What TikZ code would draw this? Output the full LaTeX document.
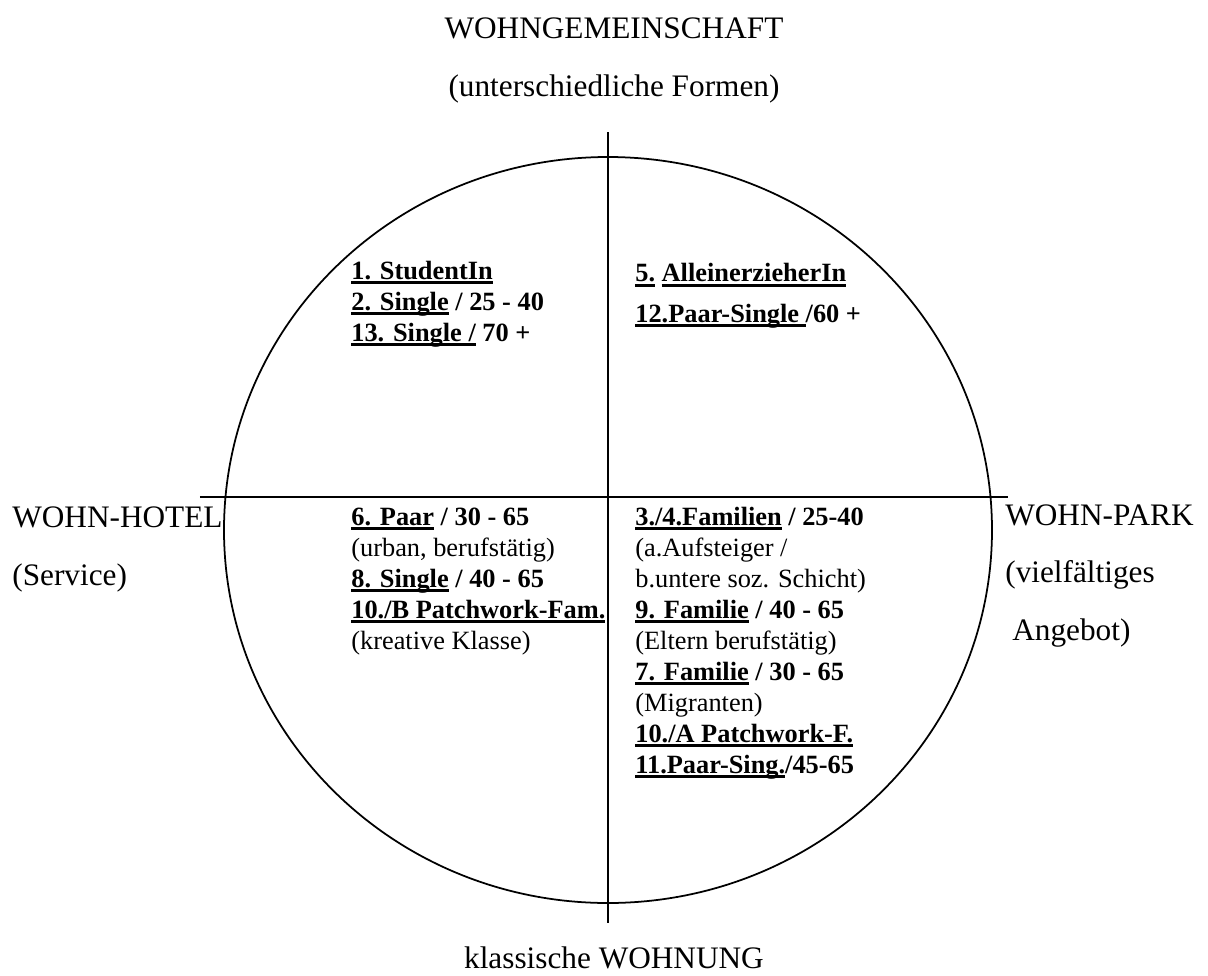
\documentclass[tikz,border=0pt]{standalone}
\usepackage{fontspec}
\setmainfont{Liberation Serif}
\usetikzlibrary{positioning}

% thick underline as in the original
\newcommand{\ulx}[1]{\setbox0=\hbox{#1}\rlap{\rule[-2.8pt]{\wd0}{1.6pt}}\box0\relax}

\begin{document}
\begin{tikzpicture}[
    axis/.style={draw=black, line width=0.8pt},
    ring/.style={draw=black, line width=1pt},
    sidetext/.style={font=\fontsize{17.8}{32.7}\selectfont, inner sep=0pt, align=left},
    quadtext/.style={font=\fontsize{15}{17.64}\selectfont, inner sep=0pt, align=left, anchor=base west}
]
\useasboundingbox (-12.16,-9.56) rectangle (12.0,9.94);

% Circle
\draw[ring] (0,-0.66) ellipse (7.68 and 7.46);

% Axes
\coordinate (top) at (0,7.3);
\coordinate (bottom) at (0,-8.52);
\coordinate (left) at (-8.16,0);
\coordinate (right) at (8.0,0);
\draw[axis] (top) -- (bottom);
\draw[axis] (left) -- (right);

% Axis labels (base = last line)
\node[sidetext, anchor=base] (wg) at (0.12,9.18) {WOHNGEMEINSCHAFT};
\node[sidetext, anchor=base] (wgsub) at (0.12,8.02) {(unterschiedliche Formen)};
\node[sidetext, anchor=base] (wohnung) at (0.12,-9.42) {klassische WOHNUNG};
\node[sidetext, anchor=base west] (hotel) at (-11.92,-1.76) {WOHN-HOTEL\\(Service)};
\node[sidetext, anchor=base west] (park) at (7.94,-2.86) {WOHN-PARK\\(vielfältiges\\\hspace*{0.14cm}Angebot)};

% Quadrants
\node[quadtext] (tl) at (-5.14,3.12) {\textbf{\ulx{1. StudentIn}}\\
    \textbf{\ulx{2. Single} / 25 - 40}\\
    \textbf{\ulx{13. Single /} 70 +}};
\node[quadtext] (tr) at (0.54,3.50) {\textbf{\ulx{5.} \ulx{AlleinerzieherIn}}\\[5.2pt]
    \textbf{\ulx{12.Paar-Single }/60 +}};
\node[quadtext] (bl) at (-5.14,-3.04) {\textbf{\ulx{6. Paar} / 30 - 65}\\
    (urban, berufstätig)\\
    \textbf{\ulx{8. Single} / 40 - 65}\\
    \textbf{\ulx{10./B Patchwork-Fam.}}\\
    (kreative Klasse)};
\node[quadtext] (br) at (0.54,-5.52) {\textbf{\ulx{3./4.Familien} / 25-40}\\
    (a.Aufsteiger /\\
    b.untere soz. Schicht)\\
    \textbf{\ulx{9. Familie} / 40 - 65}\\
    (Eltern berufstätig)\\
    \textbf{\ulx{7. Familie} / 30 - 65}\\
    (Migranten)\\
    \textbf{\ulx{10./A Patchwork-F.}}\\
    \textbf{\ulx{11.Paar-Sing.}/45-65}};

\end{tikzpicture}
\end{document}
